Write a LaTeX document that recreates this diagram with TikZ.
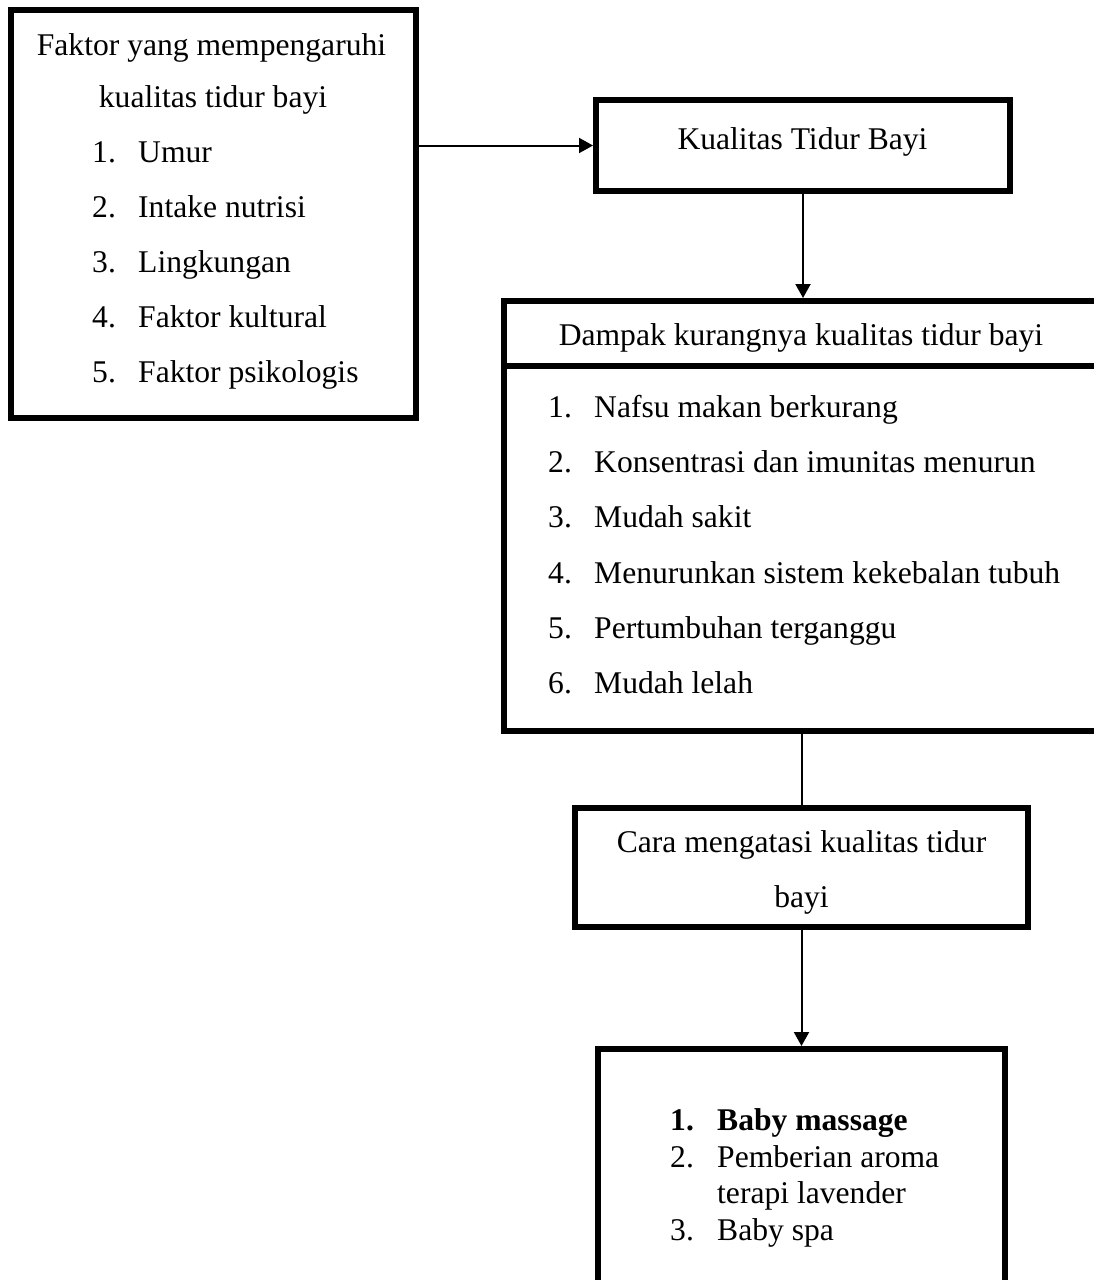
\documentclass[tikz,border=0pt]{standalone}
\usepackage{fontspec}
\setmainfont{Liberation Serif}
\usetikzlibrary{arrows.meta}
\begin{document}
\begin{tikzpicture}[x=1pt,y=-1pt,
  box/.style={draw, line width=6pt, rectangle, inner sep=0pt},
  conn/.style={line width=2pt},
  arr/.style={conn, -{Triangle[length=14pt,width=15pt]}},
  txt/.style={inner sep=0pt, font=\fontsize{31.6}{36.7}\selectfont},
  item/.style={txt, anchor=base west},
  head/.style={txt, anchor=base}]
\useasboundingbox (0,0) rectangle (1093,1280);
% boxes
\node[box, minimum width=405pt, minimum height=408pt] (fac) at (213.5,214) {};
\node[box, minimum width=414pt, minimum height=91pt] (kual) at (803,145.5) {};
\node[box, minimum width=606pt, minimum height=430pt] (damp) at (807,516) {};
\node[box, minimum width=453pt, minimum height=119pt] (cara) at (801.5,867.5) {};
\node[box, minimum width=407pt, minimum height=260pt] (sol) at (801.5,1179) {};
% separator in Dampak box
\draw[line width=6pt] (503,366) -- (1110,366);
% connectors
\draw[arr] (kual.west -| fac.east) -- (kual.west);
\draw[arr] (kual.south) -- (kual.south |- damp.north);
\draw[conn] (cara.north |- damp.south) -- (cara.north);
\draw[arr] (cara.south) -- (sol.north);
% left box texts
\node[head] (facT1) at (211.5,55) {Faktor yang mempengaruhi};
\node[head] (facT2) at (213,107) {kualitas tidur bayi};
\node[item] (facN1) at (92,162) {1.};
\node[item] (facI1) at (138,162) {Umur};
\node[item] (facN2) at (92,217) {2.};
\node[item] (facI2) at (138,217) {Intake nutrisi};
\node[item] (facN3) at (92,272) {3.};
\node[item] (facI3) at (138,272) {Lingkungan};
\node[item] (facN4) at (92,327) {4.};
\node[item] (facI4) at (138,327) {Faktor kultural};
\node[item] (facN5) at (92,382) {5.};
\node[item] (facI5) at (138,382) {Faktor psikologis};
% kualitas
\node[head] (kualT) at (802.5,149) {Kualitas Tidur Bayi};
% dampak
\node[head] (dampT) at (801,345) {Dampak kurangnya kualitas tidur bayi};
\node[item] (dN1) at (548,417) {1.};
\node[item] (dI1) at (594,417) {Nafsu makan berkurang};
\node[item] (dN2) at (548,472) {2.};
\node[item] (dI2) at (594,472) {Konsentrasi dan imunitas menurun};
\node[item] (dN3) at (548,527) {3.};
\node[item] (dI3) at (594,527) {Mudah sakit};
\node[item] (dN4) at (548,583) {4.};
\node[item] (dI4) at (594,583) {Menurunkan sistem kekebalan tubuh};
\node[item] (dN5) at (548,638) {5.};
\node[item] (dI5) at (594,638) {Pertumbuhan terganggu};
\node[item] (dN6) at (548,693) {6.};
\node[item] (dI6) at (594,693) {Mudah lelah};
% cara
\node[head] (caraT1) at (801.5,852) {Cara mengatasi kualitas tidur};
\node[head] (caraT2) at (801.5,907) {bayi};
% solutions
\node[item, font=\fontsize{31.6}{36.7}\selectfont\bfseries] (sN1) at (670,1130) {1.};
\node[item, font=\fontsize{31.6}{36.7}\selectfont\bfseries] (sI1) at (717,1130) {Baby massage};
\node[item] (sN2) at (670,1167) {2.};
\node[item] (sI2) at (717,1167) {Pemberian aroma};
\node[item] (sI2b) at (717,1203) {terapi lavender};
\node[item] (sN3) at (670,1240) {3.};
\node[item] (sI3) at (717,1240) {Baby spa};
\end{tikzpicture}
\end{document}
